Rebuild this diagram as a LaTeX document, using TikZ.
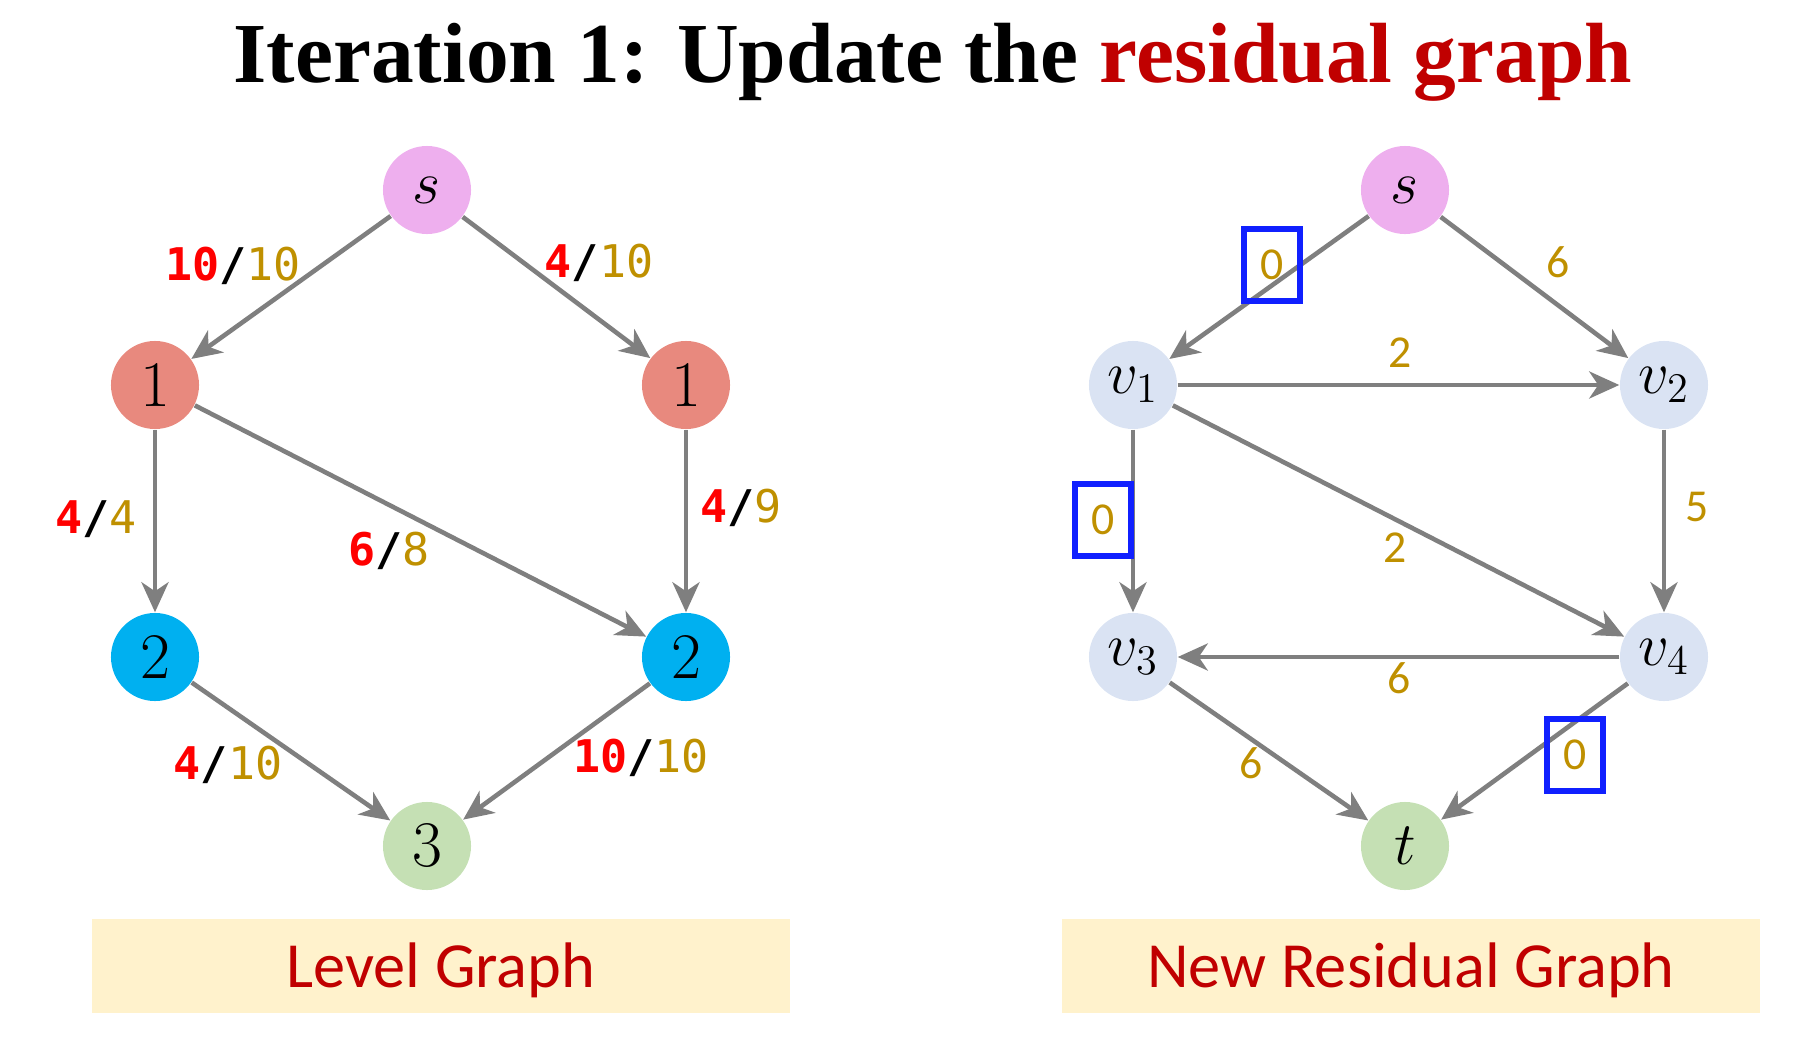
\documentclass[tikz,border=0pt]{standalone}
\usepackage{fontspec}
\usepackage{tikz}
\usetikzlibrary{arrows.meta}
\newfontfamily\titlefont{Liberation Serif}
\newfontfamily\capfont{Carlito}
\newfontfamily\numfont{DejaVu Sans Mono}
\definecolor{srcpink}{RGB}{238,175,238}
\definecolor{lvlone}{RGB}{232,137,126}
\definecolor{lvltwo}{RGB}{0,176,240}
\definecolor{sinkgreen}{RGB}{197,224,180}
\definecolor{midblue}{RGB}{218,227,243}
\definecolor{edgegray}{RGB}{127,127,127}
\definecolor{flowred}{RGB}{255,0,0}
\definecolor{capgold}{RGB}{191,144,0}
\definecolor{titlered}{RGB}{192,0,0}
\definecolor{capfill}{RGB}{255,242,204}
\definecolor{hiblue}{RGB}{16,32,255}
\tikzset{
  vtx/.style={circle,minimum size=0.88cm,inner sep=0pt,font=\fontsize{18.5}{20}\selectfont},
  flowedge/.style={draw=edgegray,line width=1.3pt,-{Stealth[length=0.3cm,width=0.27cm,inset=0.09cm]}},
  lbl/.style={inner sep=0pt,font=\numfont\fontsize{12.8}{14}\selectfont},
  res/.style={inner sep=0pt,text=capgold,font=\capfont\fontsize{13}{14}\selectfont},
  hilite/.style={res,draw=hiblue,line width=1.7pt,minimum width=0.56cm,minimum height=0.72cm},
  capbox/.style={fill=capfill,minimum width=6.97cm,minimum height=0.93cm,text=titlered,
    font=\capfont\fontsize{18.3}{20}\selectfont,text height=0.42cm,text depth=0pt}
}
\newcommand{\vtx}[5]{\node[vtx,fill=#4] (#1) at (#2,#3) {#5};}
\newcommand{\flowcap}[2]{\textcolor{flowred}{\bfseries #1}\textcolor{black}{\bfseries/}\textcolor{capgold}{#2}}

\begin{document}
\begin{tikzpicture}[x=0.01cm,y=-0.01cm]
\useasboundingbox (0,0) rectangle (1820,1054);
% title
\node[anchor=base,inner sep=0pt,font=\titlefont\bfseries\fontsize{24.3}{28}\selectfont] (title) at (933,82)
  {Iteration 1: Update the \textcolor{titlered}{residual graph}};
% level graph nodes
\vtx{ls}{427}{190}{srcpink}{$s$}
\vtx{la}{155}{385}{lvlone}{1}
\vtx{lb}{686}{385}{lvlone}{1}
\vtx{lc}{155}{657}{lvltwo}{2}
\vtx{ld}{686}{657}{lvltwo}{2}
\vtx{lt}{427}{846}{sinkgreen}{3}
% level graph edges
\draw[flowedge] (ls) -- (la);
\draw[flowedge] (ls) -- (lb);
\draw[flowedge] (la) -- (lc);
\draw[flowedge] (la) -- (ld);
\draw[flowedge] (lb) -- (ld);
\draw[flowedge] (lc) -- (lt);
\draw[flowedge] (ld) -- (lt);
% flow/capacity labels
\node[lbl] (fa) at (233,266) {\flowcap{10}{10}};
\node[lbl] (fb) at (599,263) {\flowcap{4}{10}};
\node[lbl] (fc) at (96,519) {\flowcap{4}{4}};
\node[lbl] (fd) at (389,551) {\flowcap{6}{8}};
\node[lbl] (fe) at (741,508) {\flowcap{4}{9}};
\node[lbl] (ff) at (228,765) {\flowcap{4}{10}};
\node[lbl] (fg) at (641,758) {\flowcap{10}{10}};
% residual graph nodes
\vtx{rs}{1405}{190}{srcpink}{$s$}
\vtx{ra}{1133}{385}{midblue}{$v_1$}
\vtx{rb}{1664}{385}{midblue}{$v_2$}
\vtx{rc}{1133}{657}{midblue}{$v_3$}
\vtx{rd}{1664}{657}{midblue}{$v_4$}
\vtx{rt}{1405}{846}{sinkgreen}{$t$}
% residual graph edges
\draw[flowedge] (rs) -- (ra);
\draw[flowedge] (rs) -- (rb);
\draw[flowedge] (ra) -- (rb);
\draw[flowedge] (ra) -- (rc);
\draw[flowedge] (ra) -- (rd);
\draw[flowedge] (rb) -- (rd);
\draw[flowedge] (rd) -- (rc);
\draw[flowedge] (rc) -- (rt);
\draw[flowedge] (rd) -- (rt);
% residual capacities
\node[hilite] (ca) at (1272,265) {0};
\node[res] (cb) at (1558,262) {6};
\node[res] (cc) at (1400,353) {2};
\node[hilite] (cd) at (1103,520) {0};
\node[res] (ce) at (1395,548) {2};
\node[res] (cf) at (1697,507) {5};
\node[res] (cg) at (1399,678) {6};
\node[res] (ch) at (1251,763) {6};
\node[hilite] (ci) at (1575,755) {0};
% captions
\node[capbox] (lvlcap) at (441,966) {Level Graph};
\node[capbox] (rescap) at (1411,966) {New Residual Graph};
\end{tikzpicture}
\end{document}
